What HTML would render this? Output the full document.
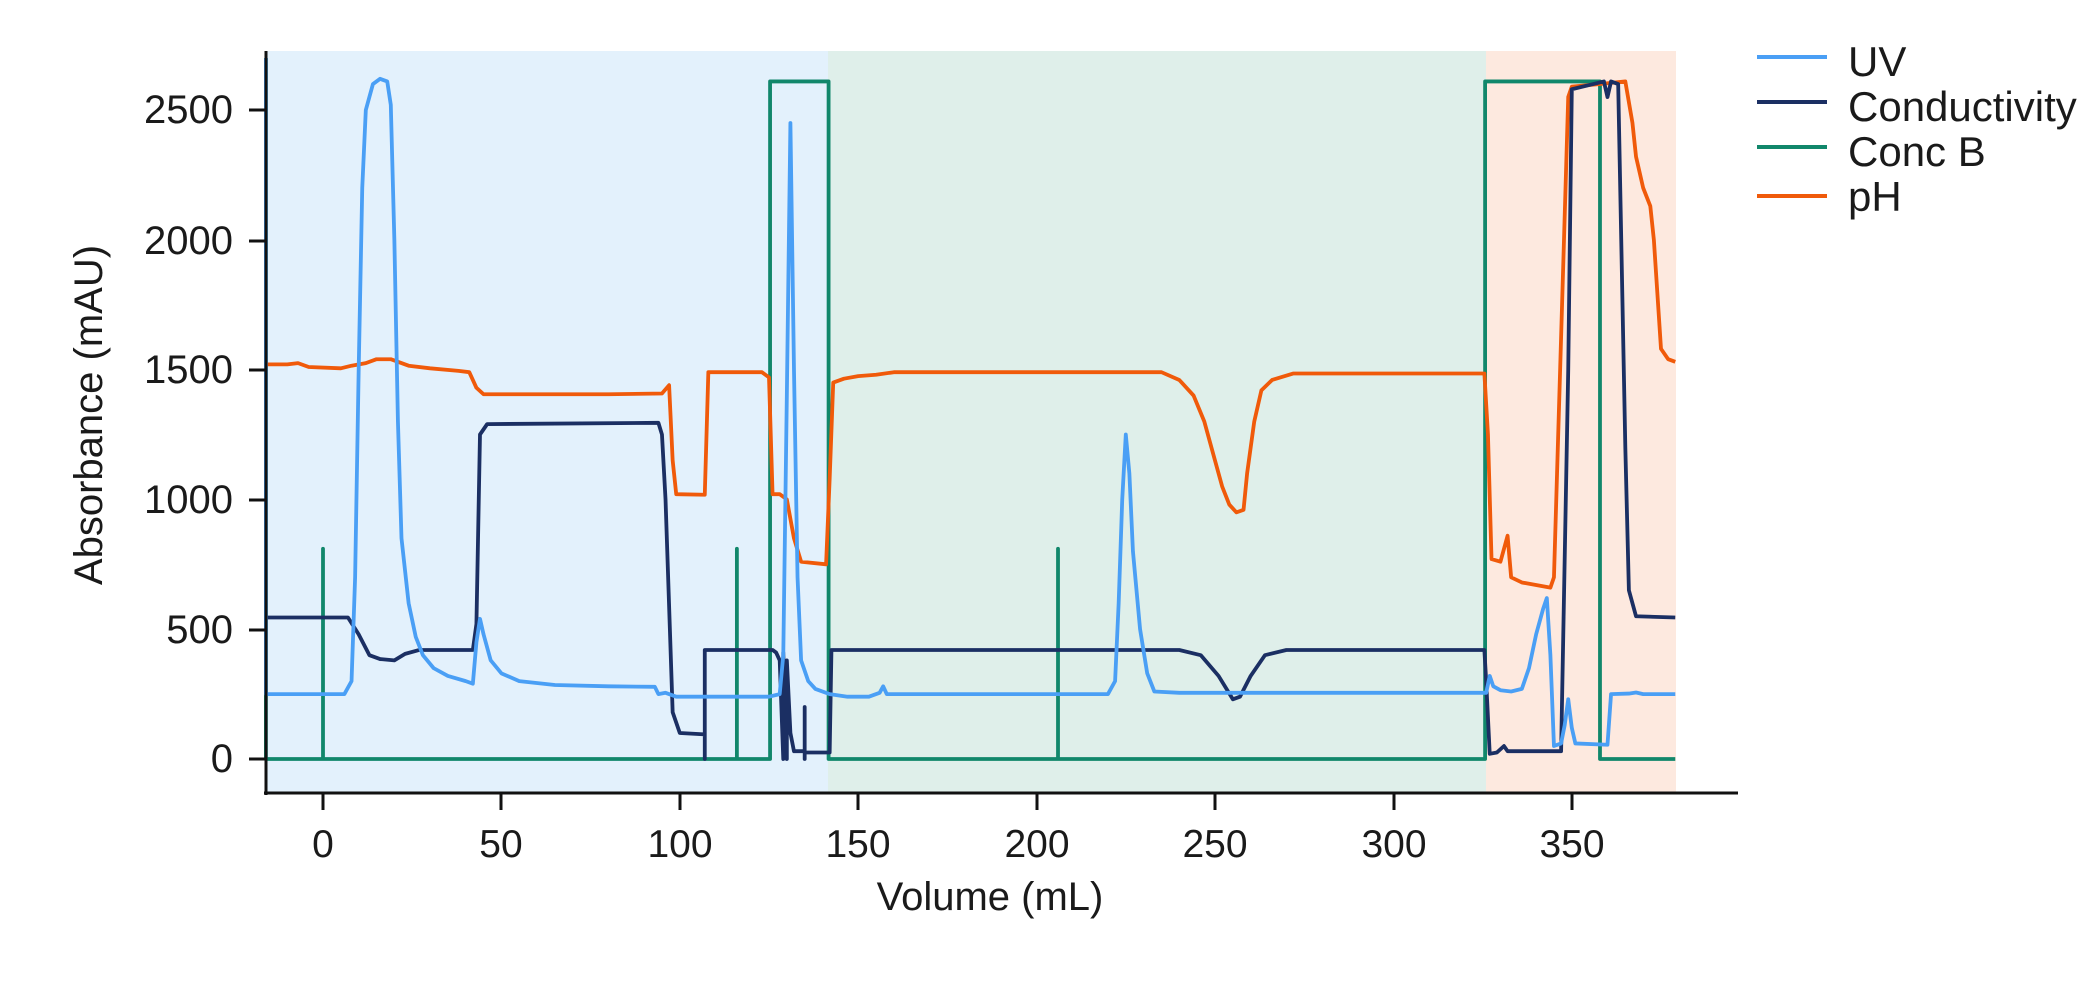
<!DOCTYPE html>
<html><head><meta charset="utf-8"><style>
html,body{margin:0;padding:0;background:#fff;}
svg{display:block;font-family:"Liberation Sans",sans-serif;}
</style></head><body>
<svg width="2096" height="989" viewBox="0 0 2096 989" xmlns="http://www.w3.org/2000/svg">
<rect x="266" y="51" width="562" height="742" fill="#e3f1fc"/>
<rect x="828" y="51" width="658" height="742" fill="#dfefea"/>
<rect x="1486" y="51" width="190" height="742" fill="#fde9df"/>
<g transform="translate(323,759) scale(3.568,-0.2596)" fill="none" stroke-linejoin="round" stroke-width="3.8">
<polyline vector-effect="non-scaling-stroke" stroke="#11876b" points="-16,2700 -16,0 0,0 0,810 0,0 116,0 116,810 116,0 125.3,0 125.3,2610 141.7,2610 141.7,0 206,0 206,810 206,0 325.7,0 325.7,2610 357.9,2610 357.9,0 379,0"/>
<polyline vector-effect="non-scaling-stroke" stroke="#f05a0a" points="-16,1520 -10,1520 -7,1525 -4,1510 5,1505 8,1515 12,1525 15,1540 19,1540 24,1515 30,1505 38,1495 41,1490 43,1430 45,1405 60,1405 80,1405 95,1408 97,1440 98,1150 99,1020 107,1018 108,1490 123,1490 125,1470 126,1020 128,1020 130,1000 132,850 134,760 141,750 142,1080 143,1450 146,1465 150,1475 155,1480 160,1490 235,1490 240,1460 244,1400 247,1300 250,1150 252,1050 254,980 256,950 258,960 259,1100 261,1300 263,1420 266,1460 272,1485 325.5,1485 326.5,1250 327.5,770 330,760 332,860 333,700 336,680 344,660 345,700 349,2550 350,2590 358,2600 365,2610 367,2450 368,2320 370,2200 372,2130 373,2000 375,1580 377,1540 379,1530"/>
<polyline vector-effect="non-scaling-stroke" stroke="#1b2f63" points="-16,545 7,545 10,480 13,400 16,385 20,380 23,405 27,420 42,420 43,520 44,1250 46,1290 94,1295 95,1250 96,1000 98,180 100,100 107,95 107,0 107,420 126,420 127,410 128,380 129,0 129,410 130,0 130,380 131,100 132,30 135,30 135,0 135,200 135,25 142,25 142.5,420 240,420 246,400 251,320 255,230 257,240 260,320 264,400 270,420 325.5,420 326,300 327,20 329,25 331,50 332,30 347,30 349,1500 350,2580 356,2600 359,2610 360,2550 361,2610 363,2600 365,1200 366,650 368,550 379,545"/>
<polyline vector-effect="non-scaling-stroke" stroke="#4a9ff5" points="-16,2700 -16,250 6,250 8,300 9,700 10,1500 11,2200 12,2500 14,2600 16,2620 18,2610 19,2520 20,2000 21,1300 22,850 24,600 26,470 28,400 31,350 35,320 40,300 42,290 43,450 44,540 45,480 47,380 50,330 55,300 65,285 80,280 93,278 94,250 96,255 99,240 125,240 128,250 129,400 130,1400 131,2450 132,1500 133,700 134,380 136,300 138,270 142,250 147,240 153,240 156,255 157,280 158,250 220,250 222,300 223,600 224,1000 225,1250 226,1100 227,800 229,500 231,330 233,260 240,255 326,255 327,320 328,280 330,265 333,260 336,270 338,350 340,480 342,580 343,620 344,400 345,50 347,60 348,130 349,230 350,120 351,60 360,55 361,250 366,252 368,256 370,250 379,250"/>
</g>
<line x1="266" y1="51" x2="266" y2="795" stroke="#111" stroke-width="3"/>
<line x1="264" y1="793" x2="1738" y2="793" stroke="#111" stroke-width="3"/>
<g stroke="#111" stroke-width="3">
<line x1="249" y1="110" x2="266" y2="110"/><line x1="249" y1="241" x2="266" y2="241"/><line x1="249" y1="370" x2="266" y2="370"/><line x1="249" y1="500" x2="266" y2="500"/><line x1="249" y1="630" x2="266" y2="630"/><line x1="249" y1="759" x2="266" y2="759"/>
<line x1="323" y1="793" x2="323" y2="810"/><line x1="501" y1="793" x2="501" y2="810"/><line x1="680" y1="793" x2="680" y2="810"/><line x1="858" y1="793" x2="858" y2="810"/><line x1="1037" y1="793" x2="1037" y2="810"/><line x1="1215" y1="793" x2="1215" y2="810"/><line x1="1394" y1="793" x2="1394" y2="810"/><line x1="1572" y1="793" x2="1572" y2="810"/>
</g>
<g font-size="40" fill="#1a1a1a" text-anchor="end">
<text x="233" y="123">2500</text><text x="233" y="254">2000</text><text x="233" y="383">1500</text><text x="233" y="513">1000</text><text x="233" y="643">500</text><text x="233" y="772">0</text>
</g>
<g font-size="39" fill="#1a1a1a" text-anchor="middle">
<text x="323" y="857">0</text><text x="501" y="857">50</text><text x="680" y="857">100</text><text x="858" y="857">150</text><text x="1037" y="857">200</text><text x="1215" y="857">250</text><text x="1394" y="857">300</text><text x="1572" y="857">350</text>
<text x="990" y="910" font-size="40">Volume (mL)</text>
<text transform="translate(102,415) rotate(-90)" font-size="40">Absorbance (mAU)</text>
</g>
<g stroke-width="4">
<line x1="1757" y1="57" x2="1827" y2="57" stroke="#4a9ff5"/>
<line x1="1757" y1="102" x2="1827" y2="102" stroke="#1b2f63"/>
<line x1="1757" y1="147" x2="1827" y2="147" stroke="#11876b"/>
<line x1="1757" y1="196" x2="1827" y2="196" stroke="#f05a0a"/>
</g>
<g font-size="42" fill="#1a1a1a">
<text x="1848" y="76">UV</text>
<text x="1848" y="121">Conductivity</text>
<text x="1848" y="166">Conc B</text>
<text x="1848" y="211">pH</text>
</g>
</svg>
</body></html>
